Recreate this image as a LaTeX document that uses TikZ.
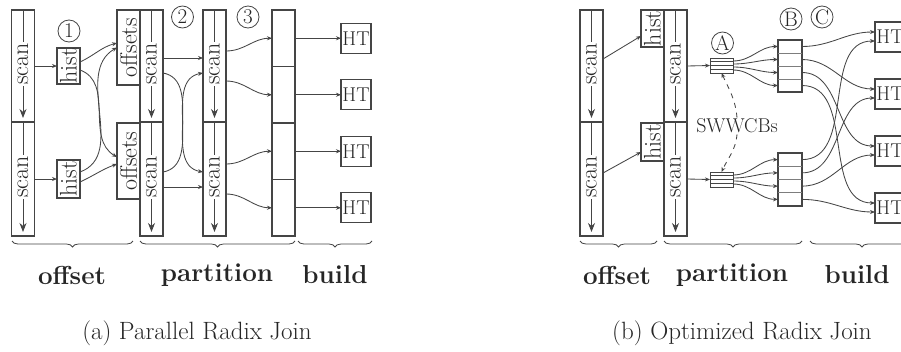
\documentclass[tikz,border=0pt]{standalone}
\usepackage{graphicx}
\usetikzlibrary{arrows.meta,decorations.pathreplacing,calc}

\definecolor{ink}{HTML}{454545}
\definecolor{txt}{HTML}{262626}
\newcommand\dfont{\fontsize{24}{28}\selectfont}
\newcommand\rot[1]{\rotatebox{90}{#1}}

\begin{document}
\begin{tikzpicture}[x=1pt,y=-1pt,
  every node/.style={text=txt},
  box/.style={draw=ink,line width=1.1pt,inner sep=0pt,outer sep=0pt,font=\dfont},
  half/.style={box,minimum width=23pt},
  scanline/.style={draw=ink,line width=0.9pt,-{Stealth[length=9pt,width=7pt]}},
  scantxt/.style={rotate=90,fill=white,inner sep=1pt,font=\dfont},
  conn/.style={draw=ink,line width=0.85pt,-{Stealth[length=5pt,width=4pt]}},
  dconn/.style={conn,dashed,dash pattern=on 5pt off 5pt},
  circ/.style={draw=ink,circle,line width=0.8pt,minimum size=22pt,inner sep=0pt,font=\fontsize{21}{24}\selectfont},
  ht/.style={box,minimum width=30pt,minimum height=30pt,font=\fontsize{20}{24}\selectfont},
  brc/.style={draw=ink,line width=0.8pt,decorate,decoration={brace,mirror,amplitude=6pt}},
  phase/.style={font=\fontsize{26}{30}\selectfont\bfseries},
  capt/.style={font=\fontsize{25}{30}\selectfont},
]
\useasboundingbox (0,0) rectangle (901,351);

% ---------------- (a) Parallel Radix Join ----------------
% scan bars
\foreach \n/\x in {a1/23,a2/151.5,a3/214.5}{
  \node[half,minimum height=112pt] (\n t) at (\x,66) {};
  \node[half,minimum height=114pt] (\n b) at (\x,179) {};
}
\foreach \n in {a1t,a1b,a2t,a2b,a3t,a3b}
  \draw[scanline] (\n.north) -- node[scantxt]{scan} ([yshift=4pt]\n.south);

% histograms and offsets
\node[box,minimum width=23pt,minimum height=36pt] (h1) at (68.5,66) {\rot{hist}};
\node[box,minimum width=23pt,minimum height=38pt] (h2) at (68.5,179) {\rot{hist}};
\node[box,minimum width=23pt,minimum height=75pt] (o1) at (128.5,47.5) {\rot{offsets}};
\node[box,minimum width=23pt,minimum height=76pt] (o2) at (128.5,161) {\rot{offsets}};

% partitioned output
\foreach \i/\y in {1/38.25,2/94.75,3/151.25,4/207.75}{
  \node[half,minimum height=56.5pt] (q\i) at (283.5,\y) {};
  \node[ht] (t\i) at (356,\y) {HT};
  \draw[conn] (q\i.east) -- (t\i.west);
}

% step markers
\node[circ] (c1) at (69,31) {1};
\node[circ] (c2) at (182.5,17) {2};
\node[circ] (c3) at (248,17) {3};

% scan -> hist
\draw[conn] (a1t.east) -- (h1.west);
\draw[conn] (a1b.east) -- (h2.west);
% hist -> offsets
\draw[conn] ([yshift=4pt]h1.east) to[out=25,in=195] ([yshift=4.5pt]o1.west);
\draw[conn] ([yshift=-4pt]h1.east) to[out=-20,in=150] ([yshift=4pt]o2.west);
\draw[conn] ([yshift=7pt]h2.east) to[out=20,in=210] ([yshift=0pt]o1.west);
\draw[conn] ([yshift=-3pt]h2.east) to[out=25,in=200] ([yshift=-3pt]o2.west);
% first partitioning pass
\draw[conn] ([yshift=8pt]a2t.east) -- ([yshift=8pt]a3t.east -| a3t.west);
\draw[conn] ([yshift=-8pt]a2b.east) -- ([yshift=-8pt]a3b.east -| a3b.west);
\draw[conn] ([yshift=-7pt]a2t.east) to[out=-10,in=170] ([yshift=7pt]a3b.west);
\draw[conn] ([yshift=7pt]a2b.east) to[out=10,in=190] ([yshift=-7pt]a3t.west);
% second partitioning pass
\draw[conn] ([yshift=15pt]a3t.east) to[out=0,in=180] (q1.west);
\draw[conn] ([yshift=-15pt]a3t.east) to[out=0,in=180] (q2.west);
\draw[conn] ([yshift=15pt]a3b.east) to[out=0,in=180] (q3.west);
\draw[conn] ([yshift=-15pt]a3b.east) to[out=0,in=180] (q4.west);

% phases
\draw[brc] (12,241) -- (133,241) coordinate[midway] (bo);
\draw[brc] (140,241) -- (295,241) coordinate[midway] (bp);
\draw[brc] (298,241) -- (372,241) coordinate[midway] (bb);
\node[phase] (lo) at (72,275) {offset};
\node[phase] (lp) at (217,275) {partition};
\node[phase] (lb) at (335,275) {build};
\node[capt] (capa) at (197,333) {(a) Parallel Radix Join};

% ---------------- (b) Optimized Radix Join ----------------
\foreach \n/\x in {b1/591.5,b2/675.5}{
  \node[half,minimum height=112pt] (\n t) at (\x,66) {};
  \node[half,minimum height=114pt] (\n b) at (\x,179) {};
}
\foreach \n in {b1t,b1b,b2t,b2b}
  \draw[scanline] (\n.north) -- node[scantxt]{scan} ([yshift=4pt]\n.south);

\node[box,minimum width=23pt,minimum height=37pt] (g1) at (652.5,28.5) {\rot{hist}};
\node[box,minimum width=23pt,minimum height=38pt] (g2) at (652.5,142) {\rot{hist}};
\draw[conn] ([yshift=7pt]b1t.east) -- ([yshift=-7.5pt]g1.west);
\draw[conn] ([yshift=6pt]b1b.east) -- ([yshift=-10pt]g2.west);

% software write-combine buffers
\node[box,line width=1pt,minimum width=23pt,minimum height=15pt] (s1) at (721.5,65.5) {};
\node[box,line width=1pt,minimum width=23pt,minimum height=15pt] (s2) at (721.5,179.5) {};
\foreach \s in {s1,s2}
  \foreach \f in {0.25,0.5,0.75}
    \draw[ink,line width=0.8pt] ($(\s.north west)!\f!(\s.south west)$) -- ($(\s.north east)!\f!(\s.south east)$);
\draw[conn] (b2t.east) -- (s1.west);
\draw[conn] (b2b.east) -- (s2.west);

% partition buffers
\node[box,minimum width=24pt,minimum height=52pt] (p1) at (790,66) {};
\node[box,minimum width=24pt,minimum height=53pt] (p2) at (790,179.5) {};
\foreach \s in {p1,p2}
  \foreach \f in {0.25,0.5,0.75}
    \draw[ink!70,line width=0.8pt] ($(\s.north west)!\f!(\s.south west)$) -- ($(\s.north east)!\f!(\s.south east)$);

\foreach \s/\p in {s1/p1,s2/p2}{
  \draw[conn] ([yshift=4.5pt]\s.east) to[out=0,in=180] ($(\p.north west)!0.125!(\p.south west)$);
  \draw[conn] ([yshift=1.5pt]\s.east) to[out=0,in=180] ($(\p.north west)!0.375!(\p.south west)$);
  \draw[conn] ([yshift=-1.5pt]\s.east) to[out=0,in=180] ($(\p.north west)!0.625!(\p.south west)$);
  \draw[conn] ([yshift=-4.5pt]\s.east) to[out=0,in=180] ($(\p.north west)!0.875!(\p.south west)$);
}

% hash tables
\foreach \i/\y in {1/37,2/94,3/151,4/208}
  \node[ht] (u\i) at (890,\y) {HT};
\foreach \i/\f in {1/0.125,2/0.375,3/0.625,4/0.875}{
  \draw[conn] ($(p1.north east)!\f!(p1.south east)$) to[out=0,in=180] ([yshift=5pt]u\i.west);
  \draw[conn] ($(p2.north east)!\f!(p2.south east)$) to[out=0,in=180] ([yshift=-4pt]u\i.west);
}

\node[circ] (cA) at (722.5,43) {A};
\node[circ] (cB) at (791,19) {B};
\node[circ] (cC) at (822,17) {C};

\node[font=\fontsize{20}{24}\selectfont,fill=white,inner sep=1pt] (sw) at (737,126) {SWWCBs};
\draw[dconn] (sw.north) to[out=95,in=-65] (s1.south);
\draw[dconn] (sw.south) to[out=-95,in=65] (s2.north);

\draw[brc] (580,241) -- (657,241) coordinate[midway] (bo2);
\draw[brc] (664,241) -- (802,241) coordinate[midway] (bp2);
\draw[brc] (810,241) -- (914,241) coordinate[midway] (bb2);
\node[phase] (lo2) at (617,275) {offset};
\node[phase] (lp2) at (732,275) {partition};
\node[phase] (lb2) at (857,275) {build};
\node[capt] (capb) at (742,333) {(b) Optimized Radix Join};
\end{tikzpicture}
\end{document}
